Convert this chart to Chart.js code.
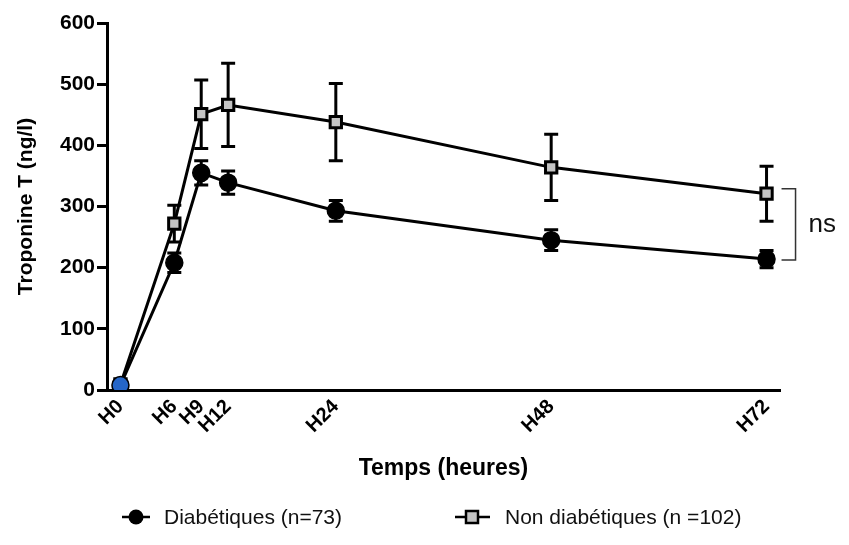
<!DOCTYPE html>
<html><head><meta charset="utf-8">
<script src="https://cdn.jsdelivr.net/npm/chart.js@4.4.0/dist/chart.umd.min.js"></script>
<style>html,body{margin:0;padding:0;background:#fff}#wrap{width:849px;height:545px}</style>
</head><body><div id="wrap"><canvas id="c" width="849" height="545"></canvas></div>
<script>
const hours = [0, 6, 9, 12, 24, 48, 72];
const tickLabels = ['H0', 'H6', 'H9', 'H12', 'H24', 'H48', 'H72'];
const diabetic = [8, 208, 355, 339, 293, 245, 214];
const diabeticErr = [3, 16, 20, 19, 17, 17, 14];
const nonDiabetic = [9, 272, 451, 466, 438, 364, 321];
const nonDiabeticErr = [3, 30, 56, 68, 63, 54, 45];
const seriesLabels = ['Diabétiques (n=73)', 'Non diabétiques (n =102)'];
const xTitle = 'Temps (heures)';
const yTitle = 'Troponine T (ng/l)';
const sigLabel = 'ns';
const yMin = 0, yMax = 600, yStep = 100;
const xMin = -1.5, xMax = 73.5;

const FONT = "'Liberation Sans', Arial, Helvetica, sans-serif";

const errorBars = {
  id: 'errorBars',
  beforeDatasetsDraw(chart) {
    const ctx = chart.ctx, xs = chart.scales.x, ys = chart.scales.y;
    ctx.save();
    ctx.strokeStyle = '#000';
    ctx.lineWidth = 3;
    chart.data.datasets.slice().reverse().forEach(ds => {
      ds.data.forEach((p, j) => {
        const e = ds.errors[j];
        const x = xs.getPixelForValue(p.x);
        const yt = ys.getPixelForValue(p.y + e);
        const yb = ys.getPixelForValue(p.y - e);
        const cw = 7;
        ctx.beginPath();
        ctx.moveTo(x, yt); ctx.lineTo(x, yb);
        ctx.moveTo(x - cw, yt); ctx.lineTo(x + cw, yt);
        ctx.moveTo(x - cw, yb); ctx.lineTo(x + cw, yb);
        ctx.stroke();
      });
    });
    ctx.restore();
  }
};

const extras = {
  id: 'extras',
  afterDraw(chart) {
    const ctx = chart.ctx, xs = chart.scales.x, ys = chart.scales.y;
    ctx.save();
    // significance bracket
    const last = hours.length - 1;
    const bx0 = xs.getPixelForValue(hours[last]) + 15;
    const bx1 = bx0 + 14;
    const byT = ys.getPixelForValue(nonDiabetic[last]) - 5;
    const byB = ys.getPixelForValue(diabetic[last]) + 1;
    ctx.strokeStyle = '#333';
    ctx.lineWidth = 1.5;
    ctx.beginPath();
    ctx.moveTo(bx0, byT); ctx.lineTo(bx1, byT); ctx.lineTo(bx1, byB); ctx.lineTo(bx0, byB);
    ctx.stroke();
    ctx.fillStyle = '#111';
    ctx.font = '26px ' + FONT;
    ctx.textBaseline = 'middle';
    ctx.textAlign = 'left';
    ctx.fillText(sigLabel, bx1 + 13, (byT + byB) / 2);

    // legend
    const ly = 517;
    const items = [
      {lx0: 122, lx1: 150, mx: 136, tx: 164},
      {lx0: 455, lx1: 490, mx: 472, tx: 505}
    ];
    chart.data.datasets.forEach((ds, i) => {
      const it = items[i];
      ctx.strokeStyle = '#000';
      ctx.lineWidth = 2.5;
      ctx.beginPath(); ctx.moveTo(it.lx0, ly); ctx.lineTo(it.lx1, ly); ctx.stroke();
      if (ds.pointStyle === 'circle') {
        ctx.fillStyle = '#000';
        ctx.beginPath(); ctx.arc(it.mx, ly, 7.5, 0, Math.PI * 2); ctx.fill();
      } else {
        ctx.fillStyle = ds.pointBackgroundColor;
        ctx.lineWidth = 2.5;
        ctx.fillRect(it.mx - 6, ly - 6, 12, 12);
        ctx.strokeRect(it.mx - 6, ly - 6, 12, 12);
      }
      ctx.fillStyle = '#111';
      ctx.font = '21px ' + FONT;
      ctx.textAlign = 'left';
      ctx.textBaseline = 'middle';
      ctx.fillText(ds.label, it.tx, ly + 1);
    });
    ctx.restore();
  }
};

const diabPointColors = diabetic.map((v, i) => i === 0 ? '#2566c8' : '#000');

new Chart(document.getElementById('c'), {
  type: 'line',
  data: {
    datasets: [
      {
        label: seriesLabels[0],
        data: hours.map((h, i) => ({x: h, y: diabetic[i]})),
        errors: diabeticErr,
        borderColor: '#000', borderWidth: 3,
        pointStyle: 'circle', pointRadius: 8.5,
        pointBackgroundColor: diabPointColors, pointBorderColor: '#000', pointBorderWidth: 1.5,
        tension: 0, fill: false
      },
      {
        label: seriesLabels[1],
        data: hours.map((h, i) => ({x: h, y: nonDiabetic[i]})),
        errors: nonDiabeticErr,
        borderColor: '#000', borderWidth: 3,
        pointStyle: 'rect', pointRadius: 8,
        pointBackgroundColor: '#c4c4c4', pointBorderColor: '#000', pointBorderWidth: 3,
        tension: 0, fill: false
      }
    ]
  },
  options: {
    responsive: false,
    animation: false,
    events: [],
    layout: {padding: {top: 23, right: 69, bottom: 60, left: 0}},
    plugins: {legend: {display: false}, tooltip: {enabled: false}},
    scales: {
      x: {
        type: 'linear', min: xMin, max: xMax,
        afterFit(s) { s.height = 95; },
        afterBuildTicks(s) { s.ticks = hours.map(v => ({value: v})); },
        grid: {display: false, drawTicks: false},
        border: {display: true, color: '#000', width: 3},
        ticks: {
          autoSkip: false, minRotation: 45, maxRotation: 45, padding: 5,
          color: '#000', font: {family: FONT, size: 20, weight: 'bold'},
          callback(v) { const i = hours.indexOf(v); return i >= 0 ? tickLabels[i] : ''; }
        },
        title: {display: true, text: xTitle, color: '#000',
          font: {family: FONT, size: 23, weight: 'bold'}, padding: {top: 0, bottom: 3}}
      },
      y: {
        type: 'linear', min: yMin, max: yMax,
        afterFit(s) { s.width = 107; },
        grid: {display: true, drawOnChartArea: false, drawTicks: true, tickLength: 10, color: '#000', lineWidth: 3},
        border: {display: true, color: '#000', width: 3},
        ticks: {stepSize: yStep, padding: 2, color: '#000', font: {family: FONT, size: 21, weight: 'bold'}},
        title: {display: true, text: yTitle, color: '#000',
          font: {family: FONT, size: 21, weight: 'bold'}, padding: {top: 14, bottom: 0}}
      }
    }
  },
  plugins: [errorBars, extras]
});
</script></body></html>
